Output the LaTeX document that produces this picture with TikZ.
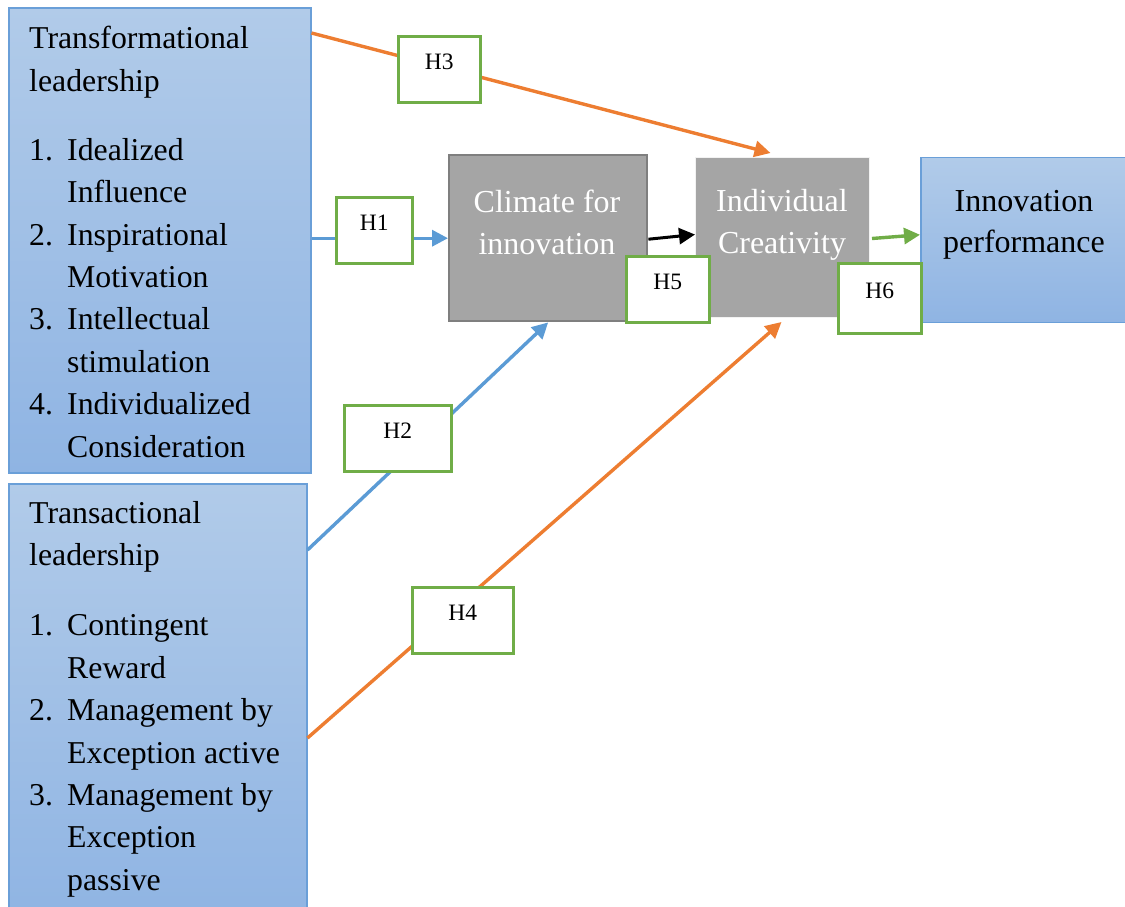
\documentclass[tikz,border=0pt]{standalone}
\usepackage{fontspec}
\setmainfont{Liberation Serif}
\usetikzlibrary{arrows.meta}
\definecolor{bluetop}{HTML}{B1CBE9}
\definecolor{bluebot}{HTML}{8FB4E3}
\definecolor{blueedge}{HTML}{6A9FD8}
\definecolor{boxgrey}{HTML}{A5A5A5}
\definecolor{greyedge}{HTML}{7F7F7F}
\definecolor{lineblue}{HTML}{5B9BD5}
\definecolor{lineorange}{HTML}{ED7D31}
\definecolor{linegreen}{HTML}{70AD47}
\tikzset{
  bluebox/.style={draw=blueedge, line width=1.5pt, top color=bluetop, bottom color=bluebot,
    inner sep=0pt, anchor=north west},
  greybox/.style={fill=boxgrey, inner sep=0pt, anchor=north west},
  hbox/.style={draw=linegreen, line width=2.6pt, fill=white, inner sep=0pt, anchor=north west,
    font=\fontsize{23.5}{27}\selectfont, text height=0pt, text depth=0pt},
  bigtext/.style={inner sep=0pt, font=\fontsize{32}{41.5}\selectfont, align=center, anchor=north},
  listtext/.style={inner sep=0pt, font=\fontsize{31.8}{42.4}\selectfont, align=left, anchor=north west},
  link/.style={line width=3.4pt, -{Triangle[length=16pt,width=16pt]}},
}
\newcommand{\numitem}[1]{\makebox[38pt][l]{#1}}
\newcommand{\contline}{\hspace*{38pt}}
\begin{document}
\begin{tikzpicture}[x=1pt, y=-1pt]
\useasboundingbox (0,0) rectangle (1125,906);
\begin{scope}
\clip (0,0) rectangle (1125,906);

% leadership styles
\node[bluebox, minimum width=302pt, minimum height=465pt] (tf) at (8,7) {};
\node[bluebox, minimum width=298pt, minimum height=440pt] (tc) at (8,483) {};
\node[listtext] (tftext) at (29,26.3) {Transformational\\leadership\\[26.6pt]%
\numitem{1.}Idealized\\\contline Influence\\%
\numitem{2.}Inspirational\\\contline Motivation\\%
\numitem{3.}Intellectual\\\contline stimulation\\%
\numitem{4.}Individualized\\\contline Consideration};
\node[listtext] (tctext) at (29,501.3) {Transactional\\leadership\\[27.6pt]%
\numitem{1.}Contingent\\\contline Reward\\%
\numitem{2.}Management by\\\contline Exception active\\%
\numitem{3.}Management by\\\contline Exception\\\contline passive};

% mediators and outcome
\node[greybox, draw=greyedge, line width=2.4pt, minimum width=198pt, minimum height=166pt] (cl) at (448,154) {};
\node[greybox, draw=white!85!boxgrey, line width=1pt, minimum width=174pt, minimum height=160pt] (ic) at (695,157) {};
\node[bluebox, minimum width=215pt, minimum height=165pt] (ip) at (920,156.5) {};
\node[bigtext, text=white] (cltext) at (547,190.1) {Climate for\\innovation};
\node[bigtext, text=white] (ictext) at (782,189.1) {Individual\\Creativity};
\node[bigtext] (iptext) at (1024,189.8) {Innovation\\performance};

% hypothesised paths
\draw[link, draw=lineorange, fill=lineorange] ([yshift=-26pt]tf.north east) -- ([xshift=-12pt,yshift=4pt]ic.north);
\draw[link, draw=lineblue, fill=lineblue] (tf.east |- cl.west) -- (cl.west);
\draw[link, draw=lineblue, fill=lineblue] ([yshift=-67pt]tc.north east) -- (cl.south);
\draw[link, draw=lineorange, fill=lineorange] ([yshift=-255pt]tc.north east) -- ([xshift=-1pt,yshift=-4pt]ic.south);
\draw[link, line width=3pt, draw=black, fill=black] ([yshift=-1pt]cl.east) -- ([yshift=3pt]ic.west);
\draw[link, draw=linegreen, fill=linegreen] ([xshift=2pt,yshift=-1pt]ic.east) -- ([yshift=5pt]ip.west);

% hypothesis labels
\node[hbox, minimum width=76pt, minimum height=66pt] (h1) at (335,196) {H1};
\node[hbox, minimum width=107pt, minimum height=66pt] (h2) at (343,404) {H2};
\node[hbox, minimum width=82pt, minimum height=66pt] (h3) at (397,35) {H3};
\node[hbox, minimum width=101pt, minimum height=66pt] (h4) at (411,586) {H4};
\node[hbox, minimum width=83pt, minimum height=66pt] (h5) at (625,255) {H5};
\node[hbox, minimum width=83pt, minimum height=70pt] (h6) at (837,262) {H6};
\end{scope}
\end{tikzpicture}
\end{document}
